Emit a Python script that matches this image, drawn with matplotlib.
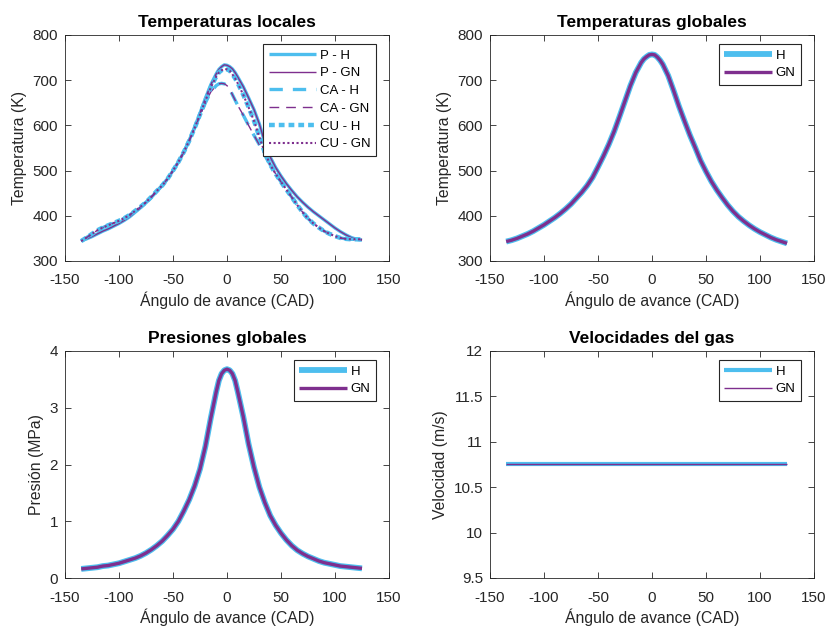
import matplotlib.pyplot as plt

# ---------------- data ---------------- #
angle = [-135, -130, -125, -120, -115, -110, -105, -100, -95, -90, -85, -80, -75, -70, -65,
         -60, -55, -50, -45, -40, -35, -30, -25, -20, -15, -10,
         -7.5, -5, -2.5, 0, 2.5, 5, 7.5,
         10, 15, 20, 25, 30, 35, 40, 45, 50, 55, 60, 65, 70, 75, 80, 85, 90, 95, 100,
         105, 110, 115, 120, 125]

# local temperatures (K)
temp_P = [345, 349, 354, 360, 366, 371, 377, 383, 390, 398, 408, 418, 429, 441, 454,
          467, 482, 500, 519, 541, 567, 596, 627, 660, 690, 714,
          724, 730, 734, 733, 730, 725, 717,
          707, 686, 661, 635, 603, 562, 530, 507, 488, 471, 456, 442, 430, 419, 409, 400, 391, 382, 373,
          365, 358, 352, 348, 346]
temp_CA = [344, 352, 360, 368, 374, 379, 384, 389, 395, 402, 411, 420, 430, 442, 455,
           467, 482, 500, 519, 541, 566, 594, 622, 650, 674, 688,
           692, 693, 692, 688, 680, 668, 656,
           644, 623, 600, 578, 557, 534, 513, 493, 475, 458, 441, 424, 408, 394, 383, 374, 366, 360, 355,
           351, 349, 348, 348, 348]
temp_CU = [344, 352, 360, 368, 374, 379, 384, 389, 395, 402, 411, 420, 430, 442, 455,
           467, 482, 500, 519, 541, 566, 594, 624, 655, 684, 708,
           717, 722, 725, 724, 721, 713, 704,
           693, 668, 640, 610, 574, 540, 513, 493, 475, 458, 441, 424, 408, 394, 383, 374, 366, 360, 355,
           351, 349, 348, 348, 348]

# global temperature (K)
temp_glob = [343, 346, 350, 355, 360, 366, 373, 380, 388, 396, 405, 415, 426, 439, 452,
             467, 485, 508, 532, 558, 587, 620, 654, 688, 717, 739,
             747, 752, 756, 757, 756, 751, 744,
             735, 710, 677, 642, 610, 579, 551, 522, 498, 476, 457, 440, 424, 410, 398, 388, 379, 371, 364,
             358, 352, 347, 343, 339]

# global pressure (MPa)
pres_glob = [0.16, 0.17, 0.18, 0.19, 0.21, 0.22, 0.24, 0.26, 0.29, 0.32, 0.35, 0.39, 0.44, 0.50, 0.57,
             0.65, 0.75, 0.86, 1.00, 1.18, 1.38, 1.62, 1.92, 2.32, 2.82, 3.28,
             3.48, 3.60, 3.66, 3.68, 3.66, 3.60, 3.48,
             3.28, 2.85, 2.36, 1.95, 1.60, 1.33, 1.10, 0.93, 0.79, 0.67, 0.57, 0.49, 0.43, 0.38, 0.34,
             0.30, 0.27, 0.25, 0.23, 0.21, 0.20, 0.19, 0.18, 0.17]

# gas velocity (m/s)
vel_ends = [-135, 125]
vel_gas = [10.75, 10.75]

C_H = '#4DBEEE'
C_GN = '#7E2F8E'
AX_C = '#262626'

plt.rcParams['font.family'] = ['Liberation Sans', 'DejaVu Sans']
plt.rcParams['axes.unicode_minus'] = False
plt.rcParams['axes.edgecolor'] = AX_C
plt.rcParams['axes.linewidth'] = 0.6
plt.rcParams['xtick.color'] = AX_C
plt.rcParams['ytick.color'] = AX_C
plt.rcParams['axes.labelcolor'] = AX_C
plt.rcParams['lines.solid_capstyle'] = 'butt'

fig = plt.figure(figsize=(8.29, 6.28), dpi=100)

W, H = 829, 628
def add_axes(l, t, r, b):
    return fig.add_axes([l / W, 1 - b / H, (r - l) / W, (b - t) / H])

ax1 = add_axes(65, 35, 389, 261)
ax2 = add_axes(490, 35, 814, 261)
ax3 = add_axes(65, 351, 389, 578)
ax4 = add_axes(490, 351, 814, 578)

# ---------------- Temperaturas locales ---------------- #
ax1.plot(angle, temp_P, color=C_H, lw=2.4, label='P - H')
ax1.plot(angle, temp_P, color=C_GN, lw=1.0, label='P - GN')
ax1.plot(angle, temp_CA, color=C_H, lw=2.4, ls=(0, (4, 3)), label='CA - H')
ax1.plot(angle, temp_CA, color=C_GN, lw=1.0, ls=(0, (7, 5)), label='CA - GN')
ax1.plot(angle, temp_CU, color=C_H, lw=3.2, ls=(0, (1.3, 0.9)), label='CU - H')
ax1.plot(angle, temp_CU, color=C_GN, lw=1.5, ls=(0, (1, 1.2)), label='CU - GN')
ax1.set_ylim(300, 800)
ax1.set_title('Temperaturas locales')
ax1.set_ylabel('Temperatura (K)')

# ---------------- Temperaturas globales ---------------- #
ax2.plot(angle, temp_glob, color=C_H, lw=4.2, label='H')
ax2.plot(angle, temp_glob, color=C_GN, lw=2.4, label='GN')
ax2.set_ylim(300, 800)
ax2.set_title('Temperaturas globales')
ax2.set_ylabel('Temperatura (K)')

# ---------------- Presiones globales ---------------- #
ax3.plot(angle, pres_glob, color=C_H, lw=4.2, label='H')
ax3.plot(angle, pres_glob, color=C_GN, lw=2.4, label='GN')
ax3.set_ylim(0, 4)
ax3.set_yticks([0, 1, 2, 3, 4])
ax3.set_title('Presiones globales')
ax3.set_ylabel('Presión (MPa)')

# ---------------- Velocidades del gas ---------------- #
ax4.plot(vel_ends, vel_gas, color=C_H, lw=3, label='H')
ax4.plot(vel_ends, vel_gas, color=C_GN, lw=1.0, label='GN')
ax4.set_ylim(9.5, 12)
ax4.set_yticks([9.5, 10, 10.5, 11, 11.5, 12])
ax4.set_yticklabels(['9.5', '10', '10.5', '11', '11.5', '12'])
ax4.set_title('Velocidades del gas')
ax4.set_ylabel('Velocidad (m/s)')

for ax in (ax1, ax2, ax3, ax4):
    ax.set_xlim(-150, 150)
    ax.set_xticks([-150, -100, -50, 0, 50, 100, 150])
    ax.set_xlabel('Ángulo de avance (CAD)', fontsize=11.3, labelpad=3)
    ax.yaxis.label.set_size(11.3)
    ax.title.set_fontweight('bold')
    ax.title.set_fontsize(12.5)
    ax.title.set_color('black')
    ax.tick_params(direction='in', length=4, width=0.6, top=True, right=True,
                   labelsize=11)
    ax.tick_params(axis='x', pad=9)
    ax.tick_params(axis='y', pad=5)
    leg = ax.legend(loc='upper right', bbox_to_anchor=(1 - 13 / 324, 1 - 9 / 226),
                    borderaxespad=0, fontsize=9.5, handlelength=3.6, handletextpad=0.3,
                    labelspacing=0.42, borderpad=0.4, fancybox=False, framealpha=1)
    leg.get_frame().set_edgecolor(AX_C)
    leg.get_frame().set_linewidth(0.8)

fig.savefig('out.png', dpi=100)
